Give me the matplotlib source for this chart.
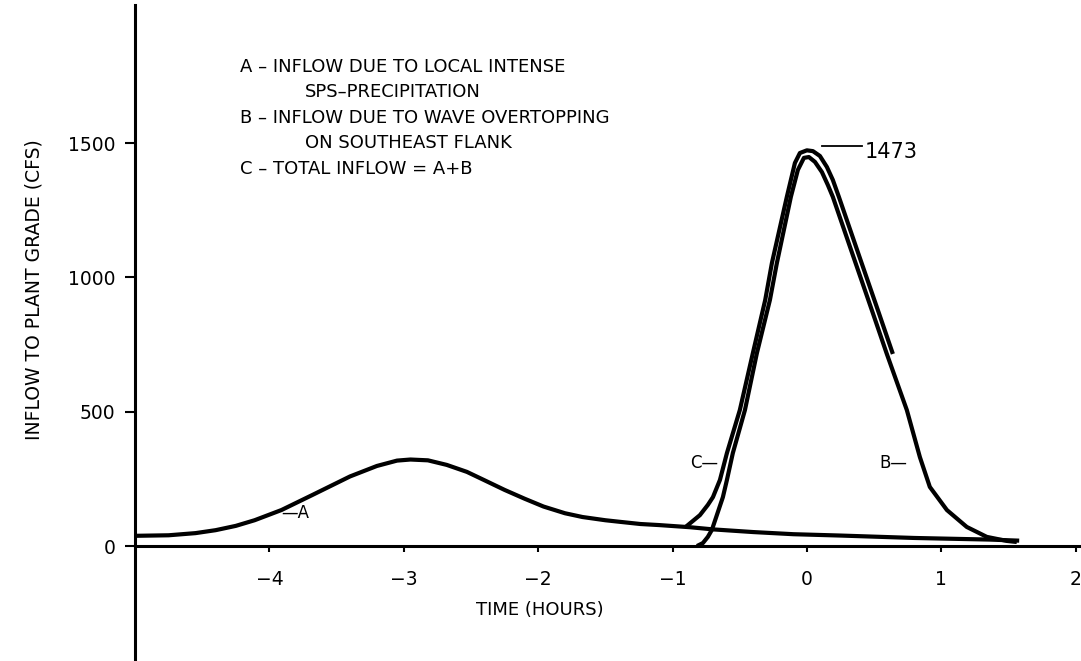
import matplotlib
matplotlib.use("Agg")
import matplotlib.pyplot as plt

# A - inflow from local intense precipitation (hours, cfs)
hours_a = [-5.0, -4.75, -4.55, -4.4, -4.25, -4.11, -3.91, -3.68, -3.4, -3.2,
           -3.05, -2.95, -2.82, -2.68, -2.53, -2.4, -2.25, -2.1, -1.96, -1.8,
           -1.67, -1.5, -1.39, -1.24, -1.1, -0.87, -0.7, -0.4, -0.1, 0.25,
           0.8, 1.36, 1.58]
flow_a = [38, 40, 48, 59, 75, 96, 134, 190, 259, 298,
          318, 322, 319, 302, 276, 245, 209, 176, 147, 122,
          108, 96, 90, 82, 78, 70, 62, 52, 44, 39,
          30, 24, 20]

# B - inflow from wave overtopping on the southeast flank
hours_b = [-0.818, -0.774, -0.737, -0.707, -0.67, -0.625, -0.595, -0.551, -0.461,
           -0.372, -0.275, -0.223, -0.119, -0.067, -0.022, 0.015, 0.06, 0.112,
           0.156, 0.193, 0.342, 0.491, 0.595, 0.744, 0.841, 0.915, 1.042,
           1.19, 1.339, 1.488, 1.562]
flow_b = [0, 11, 34, 60, 115, 182, 246, 346, 506,
          718, 916, 1054, 1300, 1400, 1445, 1448, 1430, 1392,
          1344, 1300, 1083, 867, 715, 506, 331, 220, 134,
          71, 34, 19, 15]

# C - total inflow = A + B (drawn from where it leaves A)
hours_c = [-0.9, -0.796, -0.737, -0.699, -0.647, -0.595, -0.499, -0.402, -0.31,
           -0.26, -0.149, -0.089, -0.052, 0.0, 0.045, 0.097, 0.149, 0.193,
           0.238, 0.387, 0.536, 0.64]
flow_c = [72, 115, 153, 182, 246, 346, 506, 718, 916,
          1054, 1300, 1426, 1463, 1473, 1470, 1452, 1411, 1363,
          1300, 1083, 867, 715]

peak_total = 1473
x_ticks = [-4, -3, -2, -1, 0, 1, 2]
y_ticks = [0, 500, 1000, 1500]

key_lines = [
    "A – INFLOW DUE TO LOCAL INTENSE",
    "SPS–PRECIPITATION",
    "B – INFLOW DUE TO WAVE OVERTOPPING",
    "ON SOUTHEAST FLANK",
    "C – TOTAL INFLOW = A+B",
]

fig = plt.figure(figsize=(10.81, 6.61), dpi=100)
ax = fig.add_axes([135 / 1081, 0, 946 / 1081, 656 / 661])
ax.set_xlim(-5, 2.04)
ax.set_ylim(-428, 2014)

line_kw = dict(color="black", lw=3.0, solid_capstyle="butt", solid_joinstyle="round")
ax.plot(hours_a, flow_a, **line_kw)
ax.plot(hours_b, flow_b, **line_kw)
ax.plot(hours_c, flow_c, **line_kw)

# axes drawn as plain lines: y axis full height, x axis through zero
for side in ["top", "right"]:
    ax.spines[side].set_visible(False)
ax.spines["bottom"].set_position(("data", 0))
ax.spines["left"].set_linewidth(2.2)
ax.spines["bottom"].set_linewidth(2.2)

ax.set_xticks(x_ticks)
ax.set_xticklabels([str(t).replace("-", "−") for t in x_ticks])
ax.set_yticks(y_ticks)
ax.tick_params(axis="x", direction="out", length=4, width=1.5, pad=13, labelsize=13.5)
ax.tick_params(axis="y", direction="out", length=7, width=1.5, pad=7, labelsize=13.5)

ax.text(-1.99, -238, "TIME (HOURS)", ha="center", va="center", fontsize=13)
fig.text(34 / 1081, 1 - 290 / 661, "INFLOW TO PLANT GRADE (CFS)", rotation=90,
         ha="center", va="center", fontsize=13.5)

# key in the upper left
key_x = [-4.22, -3.735, -4.22, -3.735, -4.22]
key_y = [1765, 1672, 1575, 1482, 1385]
for tx, ty, s in zip(key_x, key_y, key_lines):
    ax.text(tx, ty, s, ha="left", va="baseline", fontsize=13)

# curve tags
ax.text(-3.91, 122, "—A", ha="left", va="center", fontsize=12)
ax.text(-0.66, 309, "C—", ha="right", va="center", fontsize=12)
ax.text(0.75, 309, "B—", ha="right", va="center", fontsize=12)
ax.plot([0.112, 0.41], [1490, 1490], color="black", lw=1.3)
ax.text(0.43, 1465, str(peak_total), ha="left", va="center", fontsize=15)

fig.savefig("out.png", dpi=100, facecolor="white")
